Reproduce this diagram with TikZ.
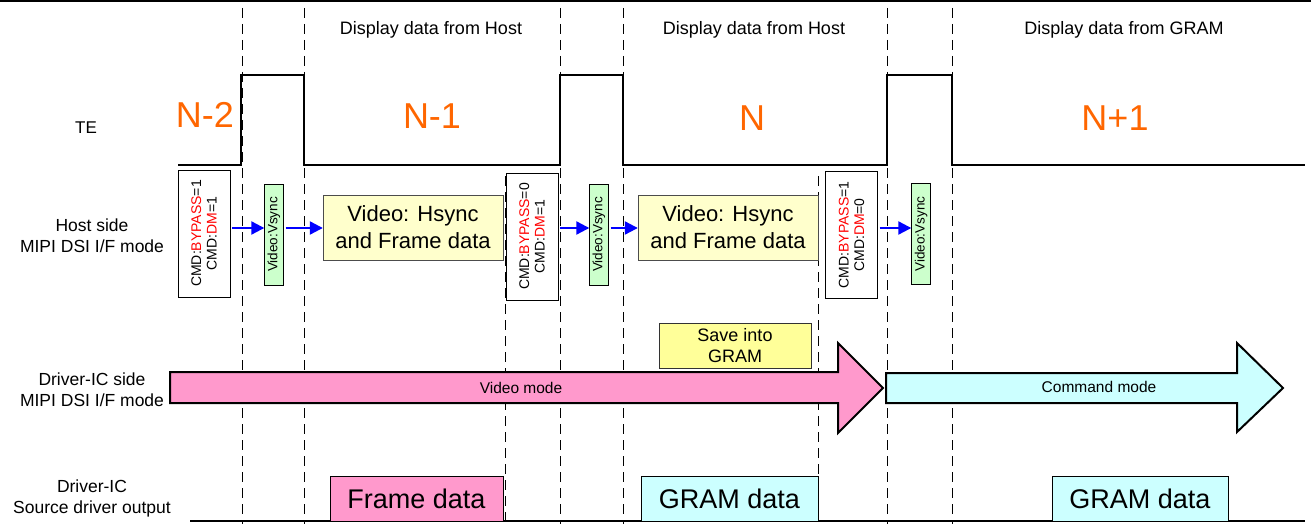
\documentclass[tikz,border=0pt]{standalone}
\usepackage{fontspec}
\setmainfont{Liberation Sans}
\usepackage{tikz}
\usetikzlibrary{arrows.meta}
\definecolor{nframe}{HTML}{FF6600}
\definecolor{pinkfill}{HTML}{FF99CC}
\definecolor{cyanfill}{HTML}{CCFFFF}
\definecolor{greenfill}{HTML}{CCFFCC}
\definecolor{paleyellow}{HTML}{FFFFCC}
\definecolor{saveyellow}{HTML}{FFFF99}
\newcommand{\fs}[1]{\fontsize{#1}{#1}\selectfont}

\begin{document}
\begin{tikzpicture}[x=1pt,y=-1pt,
  lbl/.style={inner sep=0pt,align=center,font=\fs{17.5},execute at begin node=\setlength{\baselineskip}{21pt}},
  frameno/.style={inner sep=0pt,text=nframe,font=\fs{36}},
  cmdbox/.style={draw=black,fill=white,rotate=90,align=center,inner sep=0pt,
    minimum width=127pt,minimum height=52pt,font=\fs{14},
    execute at begin node=\setlength{\baselineskip}{15.5pt}},
  vsbox/.style={draw=black,fill=greenfill,rotate=90,inner sep=0pt,
    minimum width=101pt,minimum height=19pt,font=\fs{13.5}},
  vidbox/.style={draw=black!70,fill=paleyellow,align=center,inner sep=0pt,
    minimum width=180pt,minimum height=65pt,font=\fs{22},
    execute at begin node=\setlength{\baselineskip}{27pt}},
  databox/.style={draw=black,inner sep=0pt,minimum height=45pt,font=\fs{27}},
  blue arrow/.style={draw=blue,line width=2.2pt,-{Triangle[length=13pt,width=13pt]},shorten <=2pt}]
\useasboundingbox (0,0) rectangle (1311,524);
% frame line at the top:
\draw[line width=2pt] (0,1) -- (1311,1);
% time marks:
\foreach \xx in {242,304,560,623,887,952}
  \draw[dashed,dash pattern=on 10pt off 6pt,line width=1pt] (\xx,8) -- (\xx,524);
\foreach \xx in {505,818}
  \draw[dashed,dash pattern=on 10pt off 6pt,line width=1pt] (\xx,176) -- (\xx,524);
% TE signal:
\draw[line width=2.5pt,line join=miter] (178,165) -- (241,165) -- (241,75) -- (304,75) -- (304,165)
  -- (560,165) -- (560,75) -- (623,75) -- (623,165)
  -- (887,165) -- (887,75) -- (952,75) -- (952,165) -- (1305,165);
\node[lbl,font=\fs{17}] (te) at (86,128) {TE};
\node[frameno] (nm2) at (205,115) {N-2};
\node[frameno] (nm1) at (432,116) {N-1};
\node[frameno] (nn) at (752,118) {N};
\node[frameno] (np1) at (1115,118) {N+1};
\node[lbl,font=\fs{18}] (dispA) at (431,30) {Display data from Host};
\node[lbl,font=\fs{18}] (dispB) at (754,30) {Display data from Host};
\node[lbl,font=\fs{18}] (dispC) at (1124,30) {Display data from GRAM};
% host side:
\node[lbl] (host) at (92,236) {Host side\\MIPI DSI I/F mode};
\node[cmdbox] (cmdA) at (204,233.5) {CMD:\textcolor{red}{BYPASS}=1\\CMD:\textcolor{red}{DM}=1};
\node[cmdbox] (cmdB) at (532,236.5) {CMD:\textcolor{red}{BYPASS}=0\\CMD:\textcolor{red}{DM}=1};
\node[cmdbox] (cmdC) at (851.5,235) {CMD:\textcolor{red}{BYPASS}=1\\CMD:\textcolor{red}{DM}=0};
\node[vsbox] (vsA) at (274,234.5) {Video:Vsync};
\node[vsbox] (vsB) at (599,234.5) {Video:Vsync};
\node[vsbox] (vsC) at (921,234) {Video:Vsync};
\node[vidbox] (vidA) at (413,227.5) {Video: Hsync\\and Frame data};
\node[vidbox] (vidB) at (728,227.5) {Video: Hsync\\and Frame data};
\draw[blue arrow] (cmdA.south |- 0,228) -- (vsA.north |- 0,228);
\draw[blue arrow] (vsA.south |- 0,228) -- (vidA.west |- 0,228);
\draw[blue arrow] (cmdB.south |- 0,228) -- (vsB.north |- 0,228);
\draw[blue arrow] (vsB.south |- 0,228) -- (vidB.west |- 0,228);
\draw[blue arrow] (cmdC.south |- 0,228) -- (vsC.north |- 0,228);
% driver-IC side:
\node[lbl] (drv) at (92,390) {Driver-IC side\\MIPI DSI I/F mode};
\path[draw=black,line width=2pt,fill=pinkfill] (170,372) -- (838,372) -- (838,343) -- (883,388)
  -- (838,433) -- (838,403) -- (170,403) -- cycle;
\path[draw=black,line width=2pt,fill=cyanfill] (886,373) -- (1237,373) -- (1237,343) -- (1283,388)
  -- (1237,432) -- (1237,403) -- (886,403) -- cycle;
\node[lbl,font=\fs{15.5}] (vmode) at (521,388) {Video mode};
\node[lbl,font=\fs{15.5}] (cmode) at (1099,387) {Command mode};
\node[draw=black!80,fill=saveyellow,align=center,inner sep=0pt,minimum width=152pt,
  minimum height=45pt,font=\fs{18},execute at begin node=\setlength{\baselineskip}{21pt}] (save) at (735,345.5) {Save into\\GRAM};
% source driver output:
\node[lbl] (src) at (92,498) {Driver-IC\\Source driver output};
\draw[line width=2pt] (190,521) -- (1305,521);
\node[databox,fill=pinkfill,minimum width=173pt] (frame) at (416.5,498.5) {Frame data};
\node[databox,fill=cyanfill,minimum width=177pt] (gramA) at (729.5,498.5) {GRAM data};
\node[databox,fill=cyanfill,minimum width=176pt] (gramB) at (1140,498.5) {GRAM data};
\end{tikzpicture}
\end{document}
